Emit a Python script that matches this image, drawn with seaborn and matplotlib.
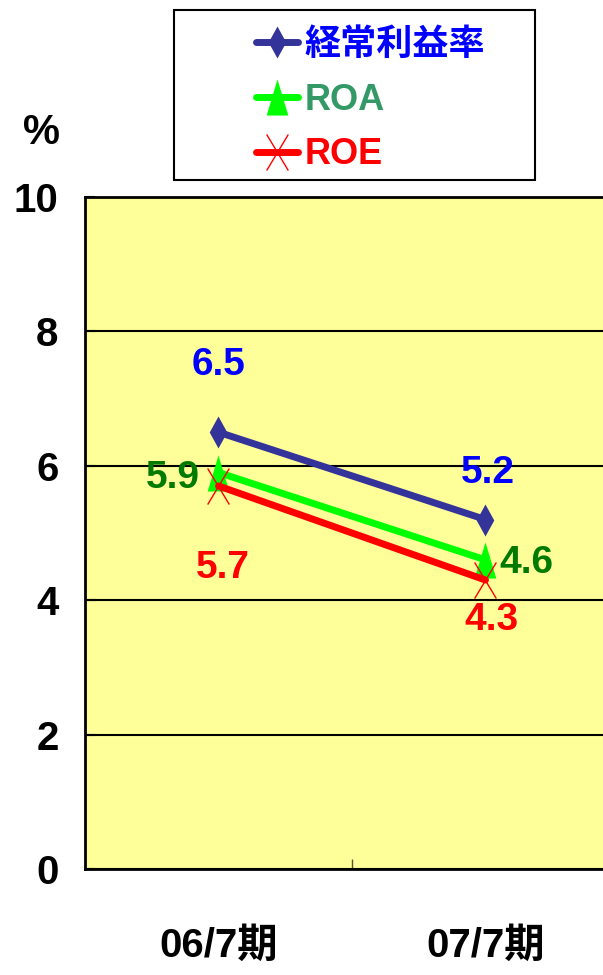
# Recreate the ratio chart (経常利益率 / ROA / ROE)
import numpy as np
import pandas as pd
import matplotlib
matplotlib.use("Agg")
import matplotlib.pyplot as plt
import seaborn as sns
from matplotlib.path import Path
from matplotlib import font_manager
from matplotlib.patches import Rectangle

# ---------------------------------------------------------
# Data
# ---------------------------------------------------------
periods = ["06/7期", "07/7期"]
series_names = ["経常利益率", "ROA", "ROE"]
keijo = [6.5, 5.2]
roa = [5.9, 4.6]
roe = [5.7, 4.3]
y_ticks = [0, 2, 4, 6, 8, 10]

# ---------------------------------------------------------
# Style
# ---------------------------------------------------------
sns.set_theme(style="white")
names = {f.name for f in font_manager.fontManager.ttflist}
narrow = "Liberation Sans Narrow" if "Liberation Sans Narrow" in names else "Liberation Sans"
FAM = [narrow, "Noto Sans CJK JP", "DejaVu Sans"]
plt.rcParams["font.family"] = FAM
plt.rcParams["font.weight"] = "bold"

line_colors = ["#333399", "#00FF00", "#FF0000"]
label_colors = ["#0000FF", "#007A00", "#FF0000"]
legend_text_colors = ["#0000FF", "#339966", "#FF0000"]

# custom, vertically stretched markers
diamond = Path([(0, 1), (0.55, 0), (0, -1), (-0.55, 0), (0, 1)],
               [Path.MOVETO, Path.LINETO, Path.LINETO, Path.LINETO, Path.CLOSEPOLY])
triangle = Path([(0, 1), (0.6, -1), (-0.6, -1), (0, 1)],
                [Path.MOVETO, Path.LINETO, Path.LINETO, Path.CLOSEPOLY])
cross = Path([(-0.6, -1), (0.6, 1), (-0.6, 1), (0.6, -1)],
             [Path.MOVETO, Path.LINETO, Path.MOVETO, Path.LINETO])

fig = plt.figure(figsize=(6.03, 9.75), dpi=100)
ax = fig.add_axes([85 / 603, 106 / 975, 534 / 603, 672 / 975])
ax.set_facecolor("#FFFF99")

x = np.arange(len(periods))
df = pd.DataFrame({"x": x, "keijo": keijo, "roa": roa, "roe": roe})

sns.lineplot(data=df, x="x", y="keijo", ax=ax, color=line_colors[0], linewidth=5,
             marker=diamond, markersize=23, mfc=line_colors[0], mec=line_colors[0],
             mew=0, label=series_names[0], zorder=3)
sns.lineplot(data=df, x="x", y="roa", ax=ax, color=line_colors[1], linewidth=5,
             marker=triangle, markersize=26, mfc=line_colors[1], mec=line_colors[1],
             mew=0, label=series_names[1], zorder=3)
sns.lineplot(data=df, x="x", y="roe", ax=ax, color=line_colors[2], linewidth=5,
             marker=cross, markersize=26, mfc="none", mec=line_colors[2],
             mew=1, label=series_names[2], zorder=4)

# ---------------------------------------------------------
# Axes
# ---------------------------------------------------------
ax.set_xlim(-0.5, 1.5)
ax.set_ylim(0, 10)
ax.set_xticks(x)
ax.set_xticklabels(periods)
ax.set_xticks([0.5], minor=True)
ax.set_yticks(y_ticks)
ax.set_xlabel("")
ax.set_ylabel("")
ax.tick_params(axis="x", which="major", length=0, pad=42, labelsize=29,
               labelcolor="black")
ax.tick_params(axis="x", which="minor", length=7, width=1, direction="in",
               color="#555533", bottom=True)
ax.tick_params(axis="y", length=7, width=1.5, direction="in", pad=19,
               labelsize=29, left=True, labelcolor="black", color="black")
for lab in ax.get_xticklabels() + ax.get_yticklabels():
    lab.set_fontweight("bold")
ax.yaxis.grid(True, color="black", linewidth=1.5)
ax.xaxis.grid(False)
for side in ["left", "top", "bottom"]:
    ax.spines[side].set_color("black")
    ax.spines[side].set_linewidth(2)
ax.spines["right"].set_visible(False)

# ---------------------------------------------------------
# Data labels
# ---------------------------------------------------------
offsets = {
    0: [(0, 67), (2, 47)],
    1: [(-46, -5), (41, -3)],
    2: [(4, -82), (6, -40)],
}
for k, vals in enumerate([keijo, roa, roe]):
    for i, v in enumerate(vals):
        dx, dy = offsets[k][i]
        ax.annotate(f"{v:.1f}", (x[i], v), xytext=(dx, dy), textcoords="offset pixels",
                    ha="center", va="center", fontsize=28, fontweight="bold",
                    color=label_colors[k], zorder=5)

# ---------------------------------------------------------
# Legend in a box above the plot
# ---------------------------------------------------------
ax.get_legend().remove()
handles, labels = ax.get_legend_handles_labels()
leg = fig.legend(handles, labels, loc="center left",
                 bbox_to_anchor=(256 / 603, 1 - 100 / 975), frameon=False,
                 fontsize=26, handlelength=1.15, handletextpad=0.2,
                 labelspacing=0.55, borderpad=0, borderaxespad=0)
for t, c in zip(leg.get_texts(), legend_text_colors):
    t.set_color(c)
    t.set_fontweight("bold")
fig.patches.append(Rectangle((174 / 603, 1 - 180 / 975), 361 / 603, 170 / 975,
                             transform=fig.transFigure, fill=False,
                             edgecolor="black", linewidth=1.5))

fig.text(42 / 603, 1 - 133 / 975, "%", ha="center", va="center",
         fontsize=30, fontweight="bold", color="black")

fig.savefig("out.png", dpi=100, facecolor="white")
